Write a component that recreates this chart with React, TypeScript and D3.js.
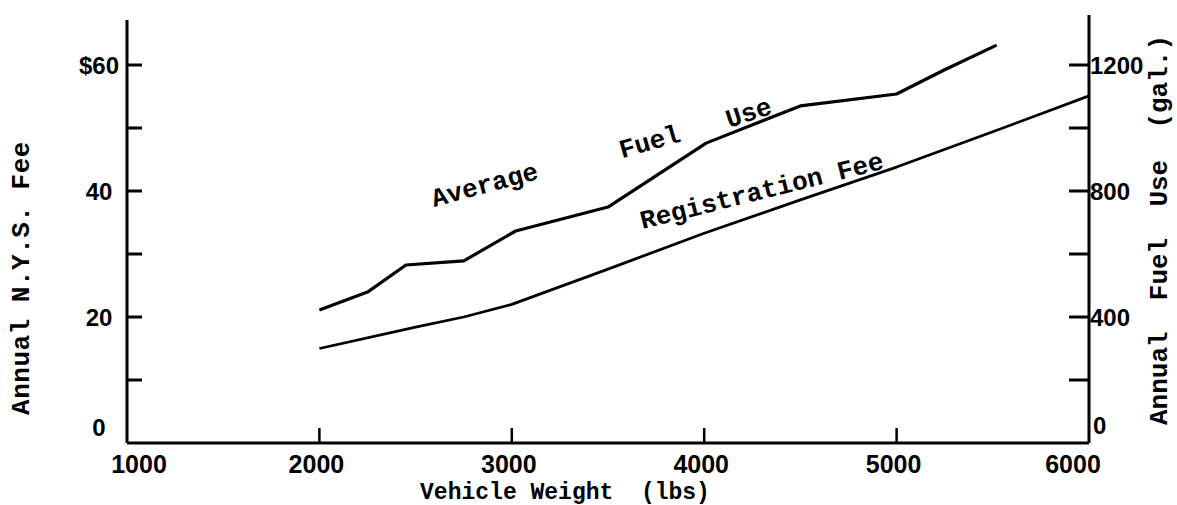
import * as d3 from 'd3'

// vehicle weight (lbs) vs. average annual fuel use (gal.)
const fuelWeight = [2000, 2250, 2450, 2750, 3020, 3500, 4010, 4500, 5000, 5250, 5520]
const fuelUse = [422, 479, 565, 578, 673, 749, 952, 1070, 1108, 1185, 1263]

// vehicle weight (lbs) vs. annual N.Y.S. registration fee ($)
const feeWeight = [2000, 2500, 2750, 3000, 3500, 4000, 4500, 5000, 5500, 6000]
const feeValue = [15, 18.4, 20, 22, 27.6, 33.3, 38.6, 43.8, 49.4, 55.1]

const xTicks = [1000, 2000, 3000, 4000, 5000, 6000]
const feeTicks = [0, 10, 20, 30, 40, 50, 60]
const feeLabels = [0, 20, 40, 60]
const fuelTicks = [0, 200, 400, 600, 800, 1000, 1200]
const fuelLabels = [0, 400, 800, 1200]

const W = 1177
const H = 505
const mono = '"Liberation Mono", "DejaVu Sans Mono", monospace'
const sans = '"Liberation Sans", Arial, sans-serif'

export default function App() {
  const x = d3.scaleLinear().domain([1000, 6000]).range([127, 1089])
  const yFee = d3.scaleLinear().domain([0, 60]).range([443, 65])
  const yFuel = d3.scaleLinear().domain([0, 1200]).range([443, 65])

  const fuelLine = d3.line<number>()
    .x((_, i) => x(fuelWeight[i]))
    .y(d => yFuel(d))
  const feeLine = d3.line<number>()
    .x((_, i) => x(feeWeight[i]))
    .y(d => yFee(d))

  const left = x(1000)
  const right = x(6000)
  const bottom = yFee(0)

  // labels written along the curves
  const curveLabels = [
    { text: 'Average', cx: 485, cy: 186, rot: -15 },
    { text: 'Fuel', cx: 650, cy: 143, rot: -16 },
    { text: 'Use', cx: 749, cy: 114, rot: -18 },
    { text: 'Registration Fee', cx: 762, cy: 192, rot: -14 },
  ]

  return (
    <svg width={W} height={H} style={{ position: 'absolute', left: 0, top: 0, background: '#fff' }}>
      <rect width={W} height={H} fill="#fff" />

      {/* axes */}
      <g stroke="#000" strokeWidth={3} fill="none">
        <line x1={left} x2={left} y1={20} y2={bottom} />
        <line x1={right} x2={right} y1={15} y2={bottom} />
        <line x1={left} x2={right} y1={bottom} y2={bottom} />
        {feeTicks.filter(t => t > 0).map(t => (
          <line key={'lt' + t} x1={left} x2={left + 15} y1={yFee(t)} y2={yFee(t)} />
        ))}
        {fuelTicks.filter(t => t > 0).map(t => (
          <line key={'rt' + t} x1={right - 20} x2={right} y1={yFuel(t)} y2={yFuel(t)} />
        ))}
        {xTicks.slice(1, -1).map(t => (
          <line key={'bt' + t} x1={x(t)} x2={x(t)} y1={bottom} y2={bottom - 15} strokeWidth={2.5} />
        ))}
      </g>

      {/* tick labels */}
      <g fontFamily={sans} fontSize={24} fontWeight="bold" fill="#000">
        {feeLabels.map(t => (
          <text key={'ll' + t} x={99} y={t === 0 ? yFee(t) - 16 : yFee(t)} textAnchor="middle" dominantBaseline="central">
            {t === 60 ? '$' + t : t}
          </text>
        ))}
        {fuelLabels.map(t => (
          <text key={'rl' + t} x={t === 0 ? 1093 : 1090} y={t === 0 ? yFuel(t) - 18 : yFuel(t)} textAnchor="start" dominantBaseline="central">
            {t}
          </text>
        ))}
      </g>
      <g fontFamily={sans} fontSize={25} fontWeight={600} fill="#000">
        {xTicks.map((t, i) => (
          <text key={'xl' + t} x={x(t) + (i === 0 ? 12 : i === xTicks.length - 1 ? -16 : -3)} y={464} textAnchor="middle" dominantBaseline="central">
            {t}
          </text>
        ))}
      </g>

      {/* axis titles */}
      <text x={565} y={493} textAnchor="middle" dominantBaseline="central" fontFamily={mono} fontWeight="bold" fontSize={23} style={{ whiteSpace: 'pre' }}>
        {'Vehicle Weight  (lbs)'}
      </text>
      <text transform="translate(22,278) rotate(-90)" textAnchor="middle" dominantBaseline="central" fontFamily={mono} fontWeight="bold" fontSize={26} letterSpacing={0.5} style={{ whiteSpace: 'pre' }}>
        {'Annual N.Y.S. Fee'}
      </text>
      <text transform="translate(1160,230) rotate(-90)" textAnchor="middle" dominantBaseline="central" fontFamily={mono} fontWeight="bold" fontSize={26} style={{ whiteSpace: 'pre' }}>
        {'Annual  Fuel  Use  (gal.)'}
      </text>

      {/* series */}
      <path d={fuelLine(fuelUse) ?? ''} fill="none" stroke="#000" strokeWidth={3.2} strokeLinejoin="round" />
      <path d={feeLine(feeValue) ?? ''} fill="none" stroke="#000" strokeWidth={2.8} strokeLinejoin="round" />

      <g fontFamily={mono} fontWeight="bold" fontSize={26} fill="#000">
        {curveLabels.map(l => (
          <text key={l.text} transform={`translate(${l.cx},${l.cy}) rotate(${l.rot})`} textAnchor="middle" dominantBaseline="central">
            {l.text}
          </text>
        ))}
      </g>
    </svg>
  )
}
